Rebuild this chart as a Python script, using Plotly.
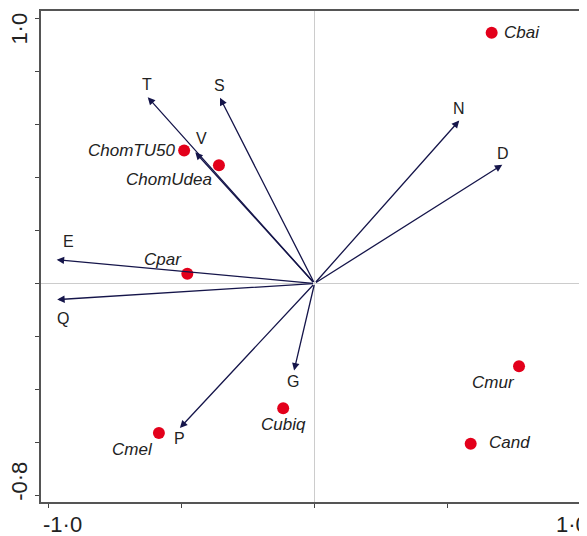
import plotly.graph_objects as go

# Sample scores (points)
samples = ["Cbai", "ChomTU50", "ChomUdea", "Cpar", "Cmel", "Cubiq", "Cmur", "Cand"]
sample_x = [0.667, -0.491, -0.360, -0.479, -0.586, -0.118, 0.770, 0.588]
sample_y = [0.948, 0.503, 0.447, 0.037, -0.565, -0.472, -0.313, -0.606]

# Variable loadings (arrows)
variables = ["T", "S", "V", "E", "Q", "N", "D", "G", "P"]
var_x = [-0.628, -0.356, -0.449, -0.971, -0.969, 0.545, 0.707, -0.077, -0.507]
var_y = [0.704, 0.702, 0.496, 0.090, -0.061, 0.616, 0.449, -0.329, -0.546]

# Label positions for variable names
var_lab_x = [-0.631, -0.359, -0.427, -0.928, -0.947, 0.545, 0.710, -0.082, -0.510]
var_lab_y = [0.752, 0.749, 0.547, 0.157, -0.133, 0.660, 0.493, -0.372, -0.587]

# Pixel offsets / anchors for sample labels
samp_dx = [10, -7, -50, -24, -26, 0, -26, 16]
samp_dy = [0, 0, 14, -14, 17, 16, 16, -1]
samp_anchor = ["left", "right", "center", "center", "center", "center", "center", "left"]

FONT = "Liberation Sans, Arial, sans-serif"
ARROW = "#15154a"

fig = go.Figure()

fig.add_trace(go.Scatter(
    x=sample_x, y=sample_y, mode="markers",
    marker=dict(color="#e3001b", size=12, line=dict(width=0)),
    hoverinfo="text", text=samples, showlegend=False))

ann = []
for vx, vy in zip(var_x, var_y):
    ann.append(dict(x=vx, y=vy, ax=0, ay=0, xref="x", yref="y", axref="x", ayref="y",
                    text="", showarrow=True, arrowhead=2, arrowsize=1.15,
                    arrowwidth=1.3, arrowcolor=ARROW, standoff=0))
for name, lx, ly in zip(variables, var_lab_x, var_lab_y):
    ann.append(dict(x=lx, y=ly, xref="x", yref="y", text=name, showarrow=False,
                    font=dict(family=FONT, size=16, color="#222222"),
                    xanchor="center", yanchor="middle"))
for name, sx, sy, dx, dy, anc in zip(samples, sample_x, sample_y, samp_dx, samp_dy, samp_anchor):
    ann.append(dict(x=sx, y=sy, xref="x", yref="y", text="<i>" + name + "</i>",
                    showarrow=False, xshift=dx, yshift=-dy,
                    font=dict(family=FONT, size=17, color="#222222"),
                    xanchor=anc, yanchor="middle"))

# Axis tick labels
tick_font = dict(family=FONT, size=22, color="#222222")
ann.append(dict(x=-1.0, y=-0.016, xref="x", yref="paper", text="-1·0", showarrow=False,
                xanchor="left", yanchor="top", xshift=-8, font=tick_font))
ann.append(dict(x=1.0, y=-0.016, xref="x", yref="paper", text="1·0", showarrow=False,
                xanchor="center", yanchor="top", xshift=-8, font=tick_font))
ann.append(dict(x=-0.040, y=0.964, xref="paper", yref="y", text="1·0", showarrow=False,
                textangle=-90, xanchor="center", yanchor="middle", font=tick_font))
ann.append(dict(x=-0.040, y=-0.749, xref="paper", yref="y", text="-0·8", showarrow=False,
                textangle=-90, xanchor="center", yanchor="middle", font=tick_font))

shapes = [dict(type="line", xref="x", yref="y", x0=1.009, x1=1.009, y0=-0.80, y1=1.03,
               line=dict(color="#777777", width=1.5))]

fig.update_layout(
    width=579, height=528,
    margin=dict(l=33, r=0, t=3, b=34),
    plot_bgcolor="white", paper_bgcolor="white",
    annotations=ann, shapes=shapes,
    xaxis=dict(range=[-1.030, 1.026], showgrid=False, zeroline=True,
               zerolinecolor="#cccccc", zerolinewidth=1,
               tickvals=[-1.0, -0.5, 0, 0.5, 1.0], showticklabels=False,
               ticks="outside", ticklen=4, tickcolor="#444444", tickwidth=1.2,
               showline=True, linecolor="#555555", linewidth=1.5, mirror=True),
    yaxis=dict(range=[-0.826, 1.030], showgrid=False, zeroline=True,
               zerolinecolor="#cccccc", zerolinewidth=1,
               tickvals=[-0.8, -0.6, -0.4, -0.2, 0, 0.2, 0.4, 0.6, 0.8, 1.0],
               showticklabels=False,
               ticks="outside", ticklen=4, tickcolor="#444444", tickwidth=1.2,
               showline=True, linecolor="#555555", linewidth=1.5, mirror=False),
)

fig.write_html("out.html")
